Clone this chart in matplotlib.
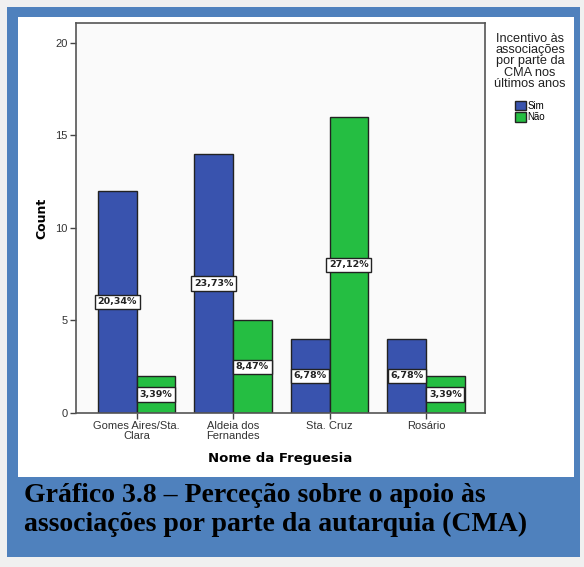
import numpy as np
import matplotlib
matplotlib.use("Agg")
from matplotlib import pyplot as plt
from matplotlib.patches import Rectangle

# data
freguesias = ["Gomes Aires/Sta.\nClara", "Aldeia dos\nFernandes", "Sta. Cruz", "Rosário"]
sim = [12, 14, 4, 4]
nao = [2, 5, 16, 2]
sim_pct = ["20,34%", "23,73%", "6,78%", "6,78%"]
nao_pct = ["3,39%", "8,47%", "27,12%", "3,39%"]
y_ticks = [0, 5, 10, 15, 20]

blue = "#3953AE"
green = "#25BE42"

W, H = 584, 567
fig = plt.figure(figsize=(W / 100, H / 100), dpi=100)
fig.patch.set_facecolor("#F0F0F0")

# blue frame and white panel
fig.patches.append(Rectangle((7 / W, 1 - 557 / H), 573 / W, 550 / H,
                             transform=fig.transFigure, facecolor="#4F81BD", edgecolor="none", zorder=-2))
fig.patches.append(Rectangle((18 / W, 1 - 477 / H), 556 / W, 460 / H,
                             transform=fig.transFigure, facecolor="white", edgecolor="none", zorder=-1))

ax = fig.add_axes([76 / W, 1 - 413 / H, 409 / W, 390 / H])
ax.set_zorder(2)
ax.set_facecolor("#FAFAFA")

x = np.arange(len(freguesias))
w = 0.4
b1 = ax.bar(x - w / 2, sim, w, color=blue, edgecolor="#222222", linewidth=1.0, label="Sim", zorder=2)
b2 = ax.bar(x + w / 2, nao, w, color=green, edgecolor="#222222", linewidth=1.0, label="Não", zorder=2)

box = dict(boxstyle="square,pad=0.28", facecolor="white", edgecolor="#222222", linewidth=1.0)
for i in range(len(x)):
    ax.text(x[i] - w / 2, sim[i] / 2, sim_pct[i], ha="center", va="center", fontsize=6.8,
            fontweight="bold", family="DejaVu Sans", color="#222222", bbox=box, zorder=3)
    ax.text(x[i] + w / 2, nao[i] / 2, nao_pct[i], ha="center", va="center", fontsize=6.8,
            fontweight="bold", family="DejaVu Sans", color="#222222", bbox=box, zorder=3)

ax.set_xlim(-0.627, 3.611)
ax.set_ylim(0, 21.08)
ax.set_yticks(y_ticks)
ax.set_yticklabels([str(t) for t in y_ticks], fontsize=8, family="Liberation Sans", color="#333333")
ax.set_xticks(x)
ax.set_xticklabels(freguesias, fontsize=8, family="Liberation Sans", color="#333333", linespacing=0.95)
ax.tick_params(axis="both", direction="out", length=4, width=1, color="#444444", pad=2)
for s in ax.spines.values():
    s.set_color("#555555")
    s.set_linewidth(1.2)

ax.set_ylabel("Count", fontsize=9, fontweight="bold", family="DejaVu Sans", labelpad=5)
ax.set_xlabel("Nome da Freguesia", fontsize=9.5, fontweight="bold", family="DejaVu Sans", labelpad=8)

leg = ax.legend(title="Incentivo às\nassociações\npor parte da\nCMA nos\núltimos anos",
                loc="upper center", bbox_to_anchor=(1.11, 0.985), frameon=False,
                prop={"family": "Liberation Sans", "size": 7}, handlelength=1.1, handleheight=1.1,
                handletextpad=0.2, labelspacing=0.15, borderaxespad=0)
leg.get_title().set_fontsize(9.2)
leg.get_title().set_family("Liberation Sans")
leg.get_title().set_color("#222222")
leg.get_title().set_multialignment("center")
leg.get_title().set_linespacing(0.92)
leg._legend_box.align = "center"
leg._legend_box.sep = 8

fig.text(24 / W, 1 - 483 / H, "Gráfico 3.8 – Perceção sobre o apoio às\nassociações por parte da autarquia (CMA)",
         ha="left", va="top", fontsize=20, fontweight="bold", family="Liberation Serif",
         color="black", linespacing=1.2)

fig.savefig("out.png", dpi=100, facecolor=fig.get_facecolor())
